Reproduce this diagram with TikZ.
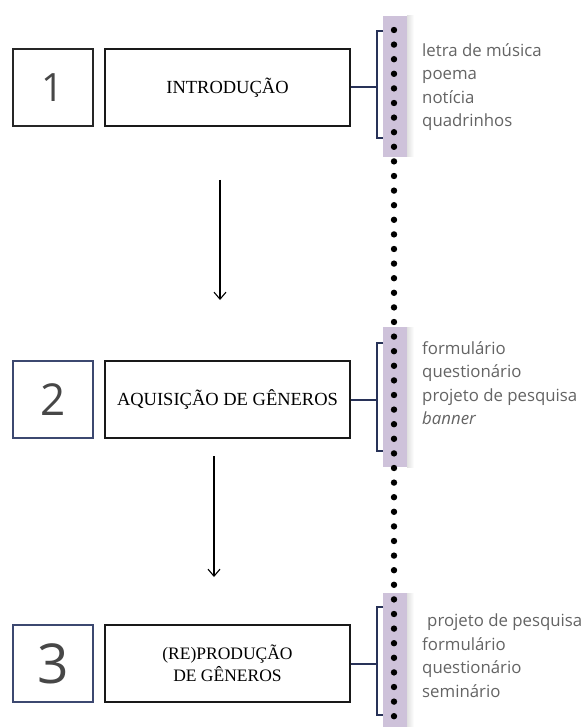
\documentclass[tikz,border=0pt]{standalone}
\usepackage{fontspec}
\setmainfont{Liberation Serif}
\newfontfamily\osans{Open Sans}
\usetikzlibrary{arrows.meta}
\definecolor{strip}{RGB}{206,194,218}
\definecolor{navy}{RGB}{40,50,88}
\definecolor{listgray}{RGB}{100,100,100}
\definecolor{numblue}{RGB}{60,72,112}
\begin{document}
\begin{tikzpicture}[x=1pt,y=-1pt,
 numbox/.style={line width=1.6pt, minimum width=80pt, minimum height=77pt, inner sep=0pt, text=black!72},
 labelbox/.style={draw=black!90, line width=1.8pt, minimum width=245pt, minimum height=77pt, inner sep=0pt, align=center, font=\fontsize{18.5}{22}\selectfont},
 link/.style={draw=navy, line width=2pt},
 flow/.style={draw=black, line width=1.1pt, -{Straight Barb[length=7pt,width=12pt,line width=1.1pt]}},
 genre/.style={anchor=west, align=left, text=listgray, font=\osans\fontsize{16.8}{23.5}\selectfont, inner sep=0pt},
 band/.style={fill=strip, draw=none},
 dot/.style={circle, fill=black, inner sep=0pt, minimum size=6.4pt}
]
\fill[white] (0,0) rectangle (581,727);
\useasboundingbox (0,0) rectangle (581,727);

% purple bands with soft shadow
\shade[left color=black!12, right color=white] (407,16) rectangle (414,157);
\shade[left color=black!12, right color=white] (407,327) rectangle (414,467);
\shade[left color=black!12, right color=white] (407,593) rectangle (414,727);
\fill[band] (383,16) rectangle (407,157);
\fill[band] (383,327) rectangle (407,467);
\fill[band] (383,593) rectangle (407,727);

% step boxes
\node[numbox, draw=black!85, font=\osans\fontsize{39}{39}\selectfont] (n1) at (53,87.5) {1};
\node[labelbox] (t1) at (227.5,87.5) {INTRODUÇÃO};
\node[numbox, draw=numblue, font=\osans\fontsize{44}{44}\selectfont] (n2) at (53,399.5) {2};
\node[labelbox] (t2) at (227.5,399.5) {AQUISIÇÃO DE GÊNEROS};
\node[numbox, draw=numblue, font=\osans\fontsize{55}{55}\selectfont] (n3) at (53,663.5) {3};
\node[labelbox, font=\fontsize{17.5}{22}\selectfont] (t3) at (227.5,663.5) {(RE)PRODUÇÃO\\DE GÊNEROS};

% brackets and links
\coordinate (br1) at (377,87.5);
\coordinate (br2) at (377,399.5);
\coordinate (br3) at (377,663.5);
\draw[link] (t1.east) -- (br1);
\draw[link] (t2.east) -- (br2);
\draw[link] (t3.east) -- (br3);
\draw[link] (383,31) -- (377,31) -- (377,138) -- (383,138);
\draw[link] (383,343) -- (377,343) -- (377,451) -- (383,451);
\draw[link] (383,607) -- (377,607) -- (377,715) -- (383,715);

% dotted timeline
\foreach \i in {0,...,47} \node[dot] (d\i) at (394,30+14.6*\i) {};

% flow arrows
\coordinate (a1s) at (220,180);
\coordinate (a1e) at (220,300);
\coordinate (a2s) at (214,456);
\coordinate (a2e) at (214,577);
\draw[flow] (a1s) -- (a1e);
\draw[flow] (a2s) -- (a2e);

% genre lists
\node[genre] (g1) at (422,87) {letra de música\\poema\\notícia\\quadrinhos};
\node[genre] (g2) at (422,383) {formulário\\questionário\\projeto de pesquisa\\\textit{banner}};
\node[genre] (g3) at (422,655.5) {\hspace*{5pt}projeto de pesquisa\\formulário\\questionário\\seminário};
\end{tikzpicture}
\end{document}
